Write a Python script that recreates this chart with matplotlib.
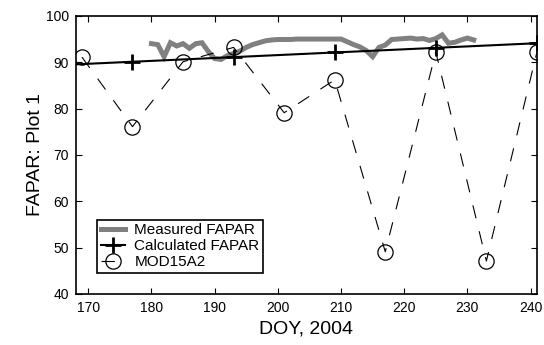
import numpy as np
import matplotlib
matplotlib.use('Agg')
from matplotlib import pyplot as plt

plt.rcParams['font.family'] = ['Liberation Sans', 'DejaVu Sans']

# measured FAPAR (daily)
meas_doy = list(range(180, 232))
meas_val = [94.0, 93.8, 91.2, 94.2, 93.5, 94.0, 93.0, 94.0, 94.2, 92.3,
            90.8, 90.6, 91.4, 91.9, 92.4, 93.2, 93.8, 94.2, 94.6, 94.8,
            94.9, 94.9, 94.9, 95.0, 95.0, 95.0, 95.0, 95.0, 95.0, 95.0,
            95.0, 94.4, 93.8, 93.3, 92.5, 91.2, 93.2, 93.7, 94.9, 95.0,
            95.1, 95.2, 95.0, 95.1, 94.7, 95.1, 95.9, 94.1, 94.3, 94.8,
            95.2, 94.8]

# calculated FAPAR
calc_doy = [161, 177, 193, 209, 225, 241]
calc_val = [89.1, 90.1, 91.1, 92.1, 93.1, 94.1]

# MOD15A2
mod_doy = [169, 177, 185, 193, 201, 209, 217, 225, 233, 241]
mod_val = [91.1, 76.1, 90.1, 93.2, 79.1, 86.2, 49.1, 92.2, 47.1, 92.2]

fig = plt.figure(figsize=(5.44, 3.45), dpi=100)
ax = fig.add_axes([0.139, 0.148, 0.848, 0.806])

ax.plot(meas_doy, meas_val, color='#808080', lw=3.6, label='Measured FAPAR',
        solid_joinstyle='miter')
ax.plot(calc_doy, calc_val, color='black', lw=1.5, marker='+', ms=12, mew=2,
        label='Calculated FAPAR')
ax.plot(mod_doy, mod_val, color='black', lw=0.8, ls=(0, (12, 12)),
        marker='o', ms=11, mfc='none', mew=0.9, label='MOD15A2')

ax.set_xlim(168, 241)
ax.set_ylim(40, 100)
ax.set_xticks(np.arange(170, 241, 10))
ax.set_yticks(np.arange(40, 101, 10))
ax.tick_params(direction='in', top=True, right=True, length=4, width=0.8,
               labelsize=10, pad=5)
for s in ax.spines.values():
    s.set_linewidth(1.2)

ax.set_xlabel('DOY, 2004', fontsize=14)
ax.set_ylabel('FAPAR: Plot 1', fontsize=14, labelpad=1)

leg = ax.legend(loc='lower left', bbox_to_anchor=(0.046, 0.076),
                borderaxespad=0, fontsize=11, handlelength=1.6,
                handletextpad=0.6, borderpad=0.25, labelspacing=0.12,
                fancybox=False, framealpha=1, edgecolor='black')
leg.get_frame().set_linewidth(1.2)

fig.savefig('out.png', dpi=100)
